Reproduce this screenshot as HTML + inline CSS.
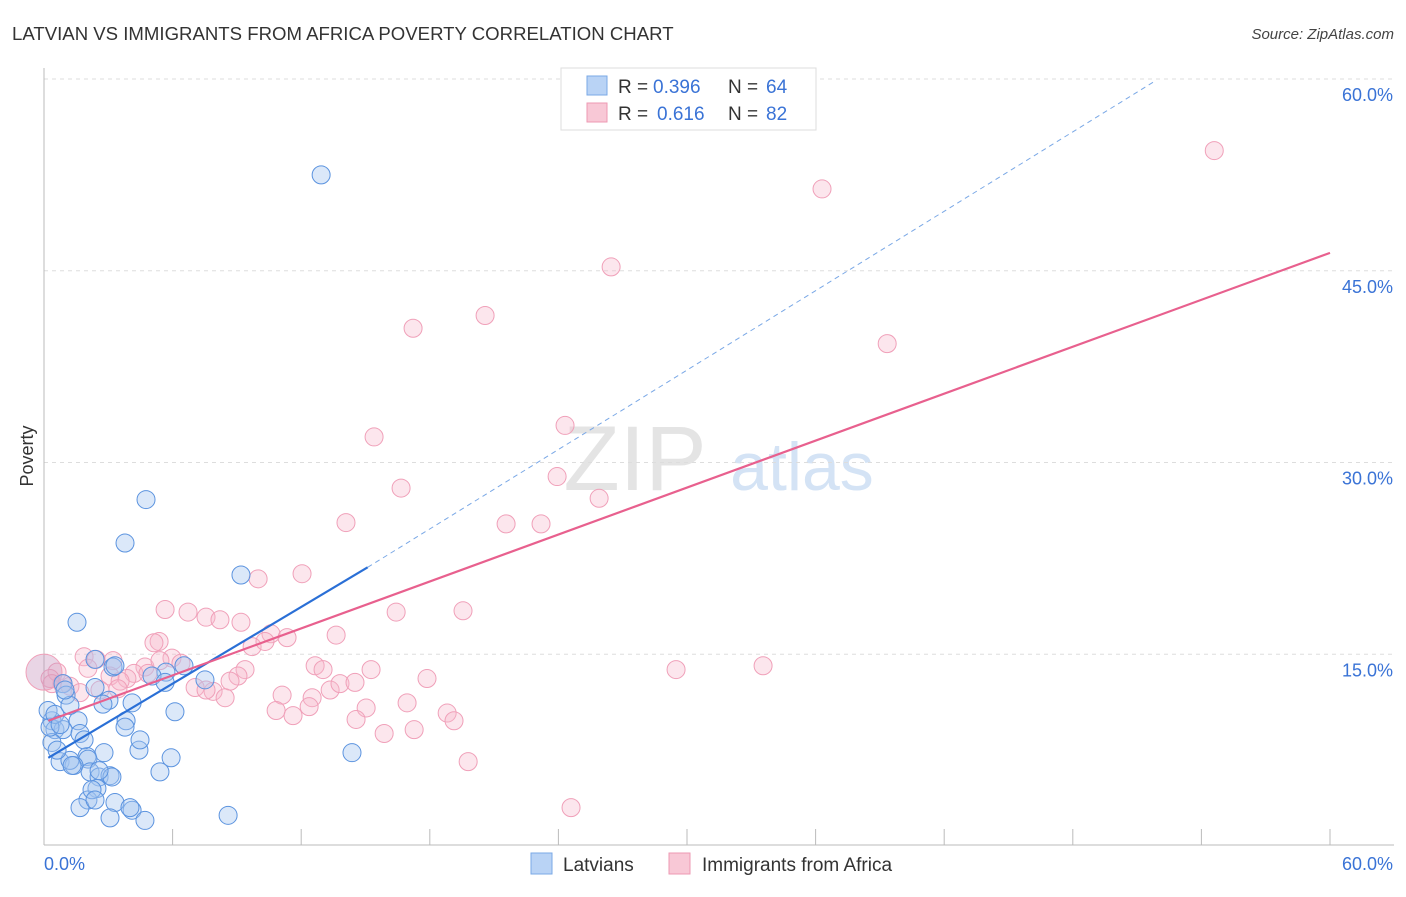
<!DOCTYPE html>
<html><head><meta charset="utf-8"><style>
body{margin:0;background:#fff;font-family:"Liberation Sans",sans-serif;}
svg text{font-family:"Liberation Sans",sans-serif;}
</style></head><body>
<svg id="chart" width="1406" height="892" xmlns="http://www.w3.org/2000/svg">
<text x="12" y="40" font-size="18.6" fill="#333">LATVIAN VS IMMIGRANTS FROM AFRICA POVERTY CORRELATION CHART</text>
<text x="1394" y="39" font-size="15" font-style="italic" fill="#444" text-anchor="end">Source: ZipAtlas.com</text>
<text transform="translate(33,456) rotate(-90)" font-size="18" fill="#333" text-anchor="middle">Poverty</text>
<g>
<text x="635" y="490" font-size="92" font-family="Liberation Serif" fill="#e4e4e4" text-anchor="middle">ZIP</text>
<text x="802" y="490" font-size="68" fill="#d4e3f5" text-anchor="middle">atlas</text>
</g>
<g id="grid"></g><g id="axes"></g><g id="marks"></g>
<g>
<rect x="561" y="68" width="255" height="62" fill="#fff" stroke="#ddd"/>
<rect x="587" y="76" width="20" height="19" fill="#b9d3f5" stroke="#7aa8e6"/>
<text x="618" y="93" font-size="19" fill="#333">R =</text>
<text x="653" y="93" font-size="19" fill="#3a73d6">0.396</text>
<text x="728" y="93" font-size="19" fill="#333">N =</text>
<text x="766" y="93" font-size="19" fill="#3a73d6">64</text>
<rect x="587" y="103" width="20" height="19" fill="#f8c8d6" stroke="#ee99b3"/>
<text x="618" y="120" font-size="19" fill="#333">R =</text>
<text x="657" y="120" font-size="19" fill="#3a73d6">0.616</text>
<text x="728" y="120" font-size="19" fill="#333">N =</text>
<text x="766" y="120" font-size="19" fill="#3a73d6">82</text>
</g>
<g>
<rect x="531" y="853" width="21" height="21" fill="#b9d3f5" stroke="#7aa8e6"/>
<text x="563" y="871" font-size="19" fill="#333">Latvians</text>
<rect x="669" y="853" width="21" height="21" fill="#f8c8d6" stroke="#ee99b3"/>
<text x="702" y="871" font-size="19" fill="#333">Immigrants from Africa</text>
</g>
</svg>
<script>
const yTicks=[15,30,45,60];
const yTickLabels=["15.0%","30.0%","45.0%","60.0%"];
const xTickCount=10;
const blueX=[12.93,4.76,3.78,9.19,1.54,2.38,3.22,6.53,5.69,0.89,2.38,5.04,5.65,7.51,4.11,3.03,6.11,3.83,1.59,0.37,0.51,0.89,1.68,0.37,3.78,4.43,2.80,2.01,2.05,0.75,1.40,2.15,2.57,3.08,5.93,5.41,14.37,2.47,2.05,3.31,1.68,4.11,3.08,4.71,8.59,0.19,0.28,1.03,1.21,2.75,3.17,2.24,0.51,1.21,1.87,2.57,0.61,1.31,2.38,4.01,0.98,3.31,4.48,0.75];
const blueY=[52.5,27.1,23.7,21.2,17.5,14.6,14.0,14.1,13.6,12.7,12.4,13.3,12.8,13.0,11.2,11.4,10.5,9.8,9.8,9.8,9.1,9.1,8.8,8.1,9.3,7.5,7.3,7.0,6.8,6.6,6.3,5.8,5.4,5.5,6.9,5.8,7.3,4.5,3.6,3.4,3.0,2.8,2.2,2.0,2.4,10.6,9.3,11.8,6.7,11.1,5.4,4.4,10.3,11.0,8.3,5.9,7.5,6.3,3.6,3.0,12.2,14.1,8.3,9.5];
const pinkX=[54.6,36.3,26.46,20.58,17.22,39.34,15.4,24.31,23.94,16.66,25.9,14.09,21.56,23.19,9.99,12.04,5.65,6.72,7.56,8.21,9.19,16.43,19.55,5.37,5.13,10.59,11.34,13.63,9.71,1.87,2.43,3.22,5.97,6.39,4.71,4.2,3.87,0.61,0.84,1.21,1.68,3.08,3.55,12.65,13.02,15.26,9.38,9.05,8.68,7.05,7.89,8.45,11.11,12.51,12.37,10.83,11.62,13.35,13.81,14.51,17.87,16.94,15.03,14.56,18.81,19.13,15.87,17.27,19.79,24.59,29.49,33.55,2.61,3.45,0.28,2.05,10.31,7.56,4.85,0.37,5.41,0.0];
const pinkY=[54.4,51.4,45.3,41.5,40.5,39.3,32.0,32.9,28.9,28.0,27.2,25.3,25.2,25.2,20.9,21.3,18.5,18.3,17.9,17.7,17.5,18.3,18.4,16.0,15.9,16.6,16.3,16.5,15.6,14.8,14.6,14.5,14.7,14.3,14.0,13.5,13.1,13.6,12.7,12.5,12.0,13.3,12.9,14.1,13.8,13.8,13.8,13.3,12.9,12.4,12.1,11.6,11.8,11.6,10.9,10.6,10.2,12.2,12.7,12.8,13.1,11.2,10.8,9.9,10.4,9.8,8.8,9.1,6.6,3.0,13.8,14.1,12.2,12.3,13.1,13.9,16.0,12.2,13.5,12.7,14.5,13.6];
const blueFit=[0.2,15.1,51.8]; const blueFitY=[6.9,21.8,59.8];
const pinkFit=[0.2,60]; const pinkFitY=[9.8,46.4];
const NS="http://www.w3.org/2000/svg";
const sx=v=>44+v*(1286/60);
const sy=v=>846-v*(767/60);
function mk(tag,attrs,parent){const e=document.createElementNS(NS,tag);for(const k in attrs)e.setAttribute(k,attrs[k]);parent.appendChild(e);return e;}
const grid=document.getElementById('grid'),axes=document.getElementById('axes'),marks=document.getElementById('marks');
yTicks.forEach((t,i)=>{
 const l=mk('line',{x1:44,x2:1394,y1:sy(t),y2:sy(t),stroke:'#ddd','stroke-dasharray':'4,4'},grid);
 
 
 const tx=mk('text',{x:1393,y:sy(t)+22,'font-size':18,fill:'#3a73d6','text-anchor':'end'},axes);
 tx.textContent=yTickLabels[i];
 
 
});
const ax=mk('line',{x1:44,x2:44,y1:68,y2:845,stroke:'#bbb'},axes);


const bx=mk('line',{x1:44,x2:1394,y1:845,y2:845,stroke:'#bbb'},axes);


for(let k=1;k<=xTickCount;k++){const x=sx(k*6);const t=mk('line',{x1:x,x2:x,y1:829,y2:845,stroke:'#bbb'},axes);
 
 }
const x0=mk('text',{x:44,y:870,'font-size':18,fill:'#3a73d6'},axes);x0.textContent='0.0%';


const x1=mk('text',{x:1393,y:870,'font-size':18,fill:'#3a73d6','text-anchor':'end'},axes);x1.textContent='60.0%';


pinkX.forEach((v,i)=>{const big=i===pinkX.length-1;const c=mk('circle',{cx:sx(v),cy:sy(pinkY[i]),r:big?18:9,fill:big?'rgba(200,150,190,0.4)':'rgba(246,182,204,0.35)',stroke:'#f0a0b9','stroke-width':1},marks);
 
 });
blueX.forEach((v,i)=>{const c=mk('circle',{cx:sx(v),cy:sy(blueY[i]),r:9,fill:'rgba(164,198,240,0.4)',stroke:'#5b93df','stroke-width':1},marks);
 
 });
const bl=mk('line',{x1:sx(blueFit[0]),y1:sy(blueFitY[0]),x2:sx(blueFit[1]),y2:sy(blueFitY[1]),stroke:'#2a6fd6','stroke-width':2.2},marks);


const bd=mk('line',{x1:sx(blueFit[1]),y1:sy(blueFitY[1]),x2:sx(blueFit[2]),y2:sy(blueFitY[2]),stroke:'#7aa8e6','stroke-width':1,'stroke-dasharray':'5,4'},marks);


const pl=mk('line',{x1:sx(pinkFit[0]),y1:sy(pinkFitY[0]),x2:sx(pinkFit[1]),y2:sy(pinkFitY[1]),stroke:'#e8608e','stroke-width':2.2},marks);


</script>
</body></html>
